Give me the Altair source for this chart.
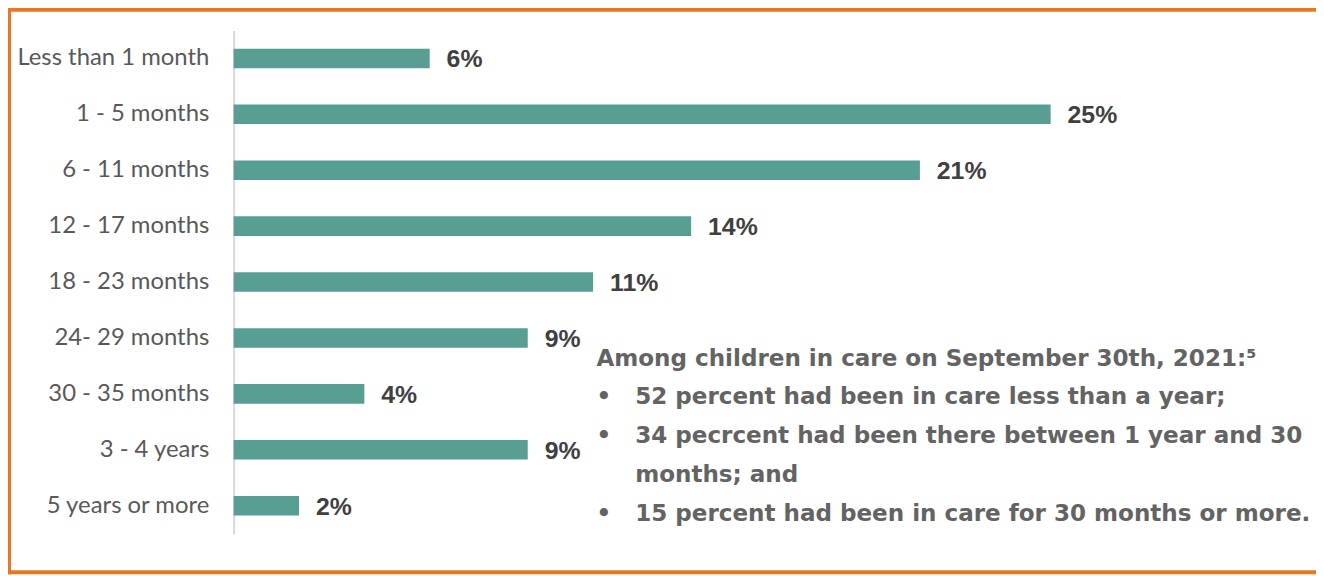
import altair as alt
import pandas as pd

categories = [
    "Less than 1 month",
    "1 - 5 months",
    "6 - 11 months",
    "12 - 17 months",
    "18 - 23 months",
    "24- 29 months",
    "30 - 35 months",
    "3 - 4 years",
    "5 years or more",
]
percents = [6, 25, 21, 14, 11, 9, 4, 9, 2]
value_labels = [f"{p}%" for p in percents]

note_heading = "Among children in care on September 30th, 2021:\u2075"
note_lines = [
    "52 percent  had been in care less than a year;",
    "34 pecrcent had been there between 1 year and 30",
    "months; and",
    "15 percent had been in care for 30 months or more.",
]
note_bullets_top = ["\u2022", "\u2022"]
note_bullet_last = "\u2022"

df = pd.DataFrame({"category": categories, "pct": percents, "label": value_labels})
anchor = pd.DataFrame({"k": [0]})

ORANGE = "#e87722"
TEAL = "#589e93"
GRAY = "#595959"
NOTE_GRAY = "#636363"
NOTE_FONT = "DejaVu Sans"
NOTE_SIZE = 23.2

y_enc = alt.Y(
    "category:N",
    sort=categories,
    title=None,
    scale=alt.Scale(range=[20.875, 527.125], paddingInner=0.65, paddingOuter=0.325),
    axis=alt.Axis(
        ticks=False,
        domainColor="#d9d9d9",
        domainWidth=2,
        labelFont="Lato",
        labelFontSize=24,
        labelColor=GRAY,
        labelPadding=25,
        labelLimit=400,
    ),
)
x_enc = alt.X("pct:Q", scale=alt.Scale(domain=[0, 25], nice=False), axis=None)

bars = alt.Chart(df).mark_bar(color=TEAL).encode(x=x_enc, y=y_enc)

labels = alt.Chart(df).mark_text(
    align="left", baseline="middle", dx=17, dy=1,
    font="Liberation Sans", fontWeight="bold", fontSize=25, color="#404040",
).encode(x=x_enc, y=alt.Y("category:N", sort=categories), text="label:N")

note_style = dict(
    align="left", baseline="middle", lineHeight=39,
    font=NOTE_FONT, fontWeight="bold", fontSize=NOTE_SIZE, color=NOTE_GRAY,
)

heading = alt.Chart(anchor).mark_text(text=note_heading, **note_style).encode(
    x=alt.value(365), y=alt.value(351)
)
body = alt.Chart(anchor).mark_text(text=note_lines, **note_style).encode(
    x=alt.value(404), y=alt.value(390)
)
bullets_top = alt.Chart(anchor).mark_text(text=note_bullets_top, **note_style).encode(
    x=alt.value(365), y=alt.value(390)
)
bullet_last = alt.Chart(anchor).mark_text(text=note_bullet_last, **note_style).encode(
    x=alt.value(365), y=alt.value(507)
)

frame_top = alt.Chart(anchor).mark_rule(color=ORANGE, strokeWidth=4).encode(
    x=alt.value(-227), x2=alt.value(1089), y=alt.value(0)
)
frame_bottom = alt.Chart(anchor).mark_rule(color=ORANGE, strokeWidth=4).encode(
    x=alt.value(-227), x2=alt.value(1089), y=alt.value(566)
)
frame_left = alt.Chart(anchor).mark_rule(color=ORANGE, strokeWidth=3).encode(
    x=alt.value(-225.5), y=alt.value(0), y2=alt.value(568)
)

chart = alt.layer(
    bars, labels, heading, body, bullets_top, bullet_last,
    frame_top, frame_bottom, frame_left,
).properties(
    width=822,
    height=568,
    padding={"left": 227, "top": 0, "right": 267, "bottom": 0},
    autosize=alt.AutoSizeParams(type="none"),
    background="white",
).configure_view(stroke=None)

chart.save("out.html", embed_options={"renderer": "svg", "actions": False})
